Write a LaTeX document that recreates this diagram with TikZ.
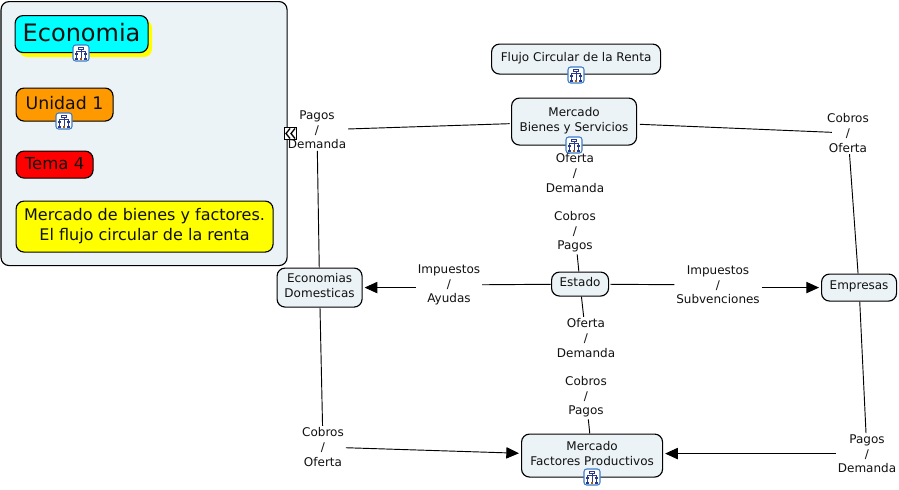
\documentclass[tikz,border=0pt]{standalone}
\usepackage{fontspec}
\setmainfont{DejaVu Sans}
\usetikzlibrary{arrows.meta,calc}
\definecolor{panel}{HTML}{EBF3F6}
\definecolor{txt}{HTML}{111111}
\definecolor{cmcyan}{HTML}{00FFFF}
\definecolor{cmyellow}{HTML}{FFFF00}
\definecolor{cmorange}{HTML}{FF9900}
\definecolor{cmred}{HTML}{FF0000}
\definecolor{iconblue}{HTML}{3C7CC8}
\definecolor{iconnavy}{HTML}{2A3A8C}
\tikzset{
  x=0.75pt,y=-0.75pt,
  concept/.style={draw=black,line width=0.85pt,rounded corners=6pt,fill=panel,align=center,font=\fontsize{9}{10.9}\selectfont,text=txt,inner sep=0pt,text depth=3pt},
  head/.style={draw=black,line width=0.85pt,rounded corners=6pt,align=center,text=txt,inner sep=0pt},
  lbl/.style={align=center,font=\fontsize{9}{10.9}\selectfont,text=txt,inner sep=1.5pt,outer sep=0pt},
  link/.style={draw=black,line width=0.7pt},
  arrowlink/.style={link,shorten >=1.5pt,-{Triangle[length=9.5pt,width=8.5pt]}},
  iconbox/.style={draw=iconblue,line width=0.8pt,fill=white,rounded corners=2pt,minimum size=12pt,inner sep=0pt},
}
\newcommand{\cmapicon}[2]{%
  \node[iconbox] (#1) at (#2) {};
  \begin{scope}[shift={(#2)}]
    \draw[iconnavy,line width=0.35pt] (0,-3.5) -- (0,4.5) (-4.5,-0.5) -- (-4.5,-1.8) -- (4.5,-1.8) -- (4.5,-0.5) (-4.5,2) -- (-4.5,4.5) (4.5,2) -- (4.5,4.5);
    \draw[iconnavy,line width=0.4pt,fill=white] (-2.5,-6) rectangle (2.5,-3.5);
    \fill[iconnavy] (-6,-0.5) rectangle (-3,2);
    \fill[iconnavy] (3,-0.5) rectangle (6,2);
    \fill[iconnavy] (-6,4.5) rectangle (-3,7);
    \fill[orange!70!black] (-1.3,4.5) rectangle (1.3,7);
    \fill[iconnavy] (3,4.5) rectangle (6,7);
  \end{scope}}
\begin{document}
\begin{tikzpicture}
\useasboundingbox (0,0) rectangle (899,489);
\fill[white] (0,0) rectangle (899,489);
% left panel
\node[concept,anchor=north west,minimum width=286pt*0.75,minimum height=264pt*0.75] (panel) at (0.5,1) {};
% yellow shadow
\fill[cmyellow,rounded corners=6pt] (19,20) rectangle (152,57);
\node[head,fill=cmcyan,anchor=north west,minimum width=133pt*0.75,minimum height=37pt*0.75,font=\fontsize{18}{20}\selectfont,text depth=3pt] (econ) at (14.5,15) {Economia};
\node[head,fill=cmorange,anchor=north west,minimum width=97pt*0.75,minimum height=33pt*0.75,font=\fontsize{13}{15}\selectfont,text depth=3pt] (unidad) at (15.5,87.5) {Unidad 1};
\node[head,fill=cmred,anchor=north west,minimum width=77pt*0.75,minimum height=27pt*0.75,font=\fontsize{12.4}{14}\selectfont,text depth=2pt] (tema) at (15.5,150.5) {Tema 4};
\node[head,fill=cmyellow,anchor=north west,minimum width=257pt*0.75,minimum height=51pt*0.75,font=\fontsize{12}{14.5}\selectfont,text depth=3pt] (titulo) at (15.5,200.5) {Mercado de bienes y factores.\\El flujo circular de la renta};
\cmapicon{i1}{81,53}
\cmapicon{i2}{64,121}
% collapse marker
\node[draw=black,fill=white,line width=0.8pt,minimum size=9pt,inner sep=0pt] (collapse) at (290.5,133.5) {};
\draw[black,line width=1pt] (290,128.5) -- (286,133.5) -- (290,138.5) (295,128.5) -- (291,133.5) -- (295,138.5);
% concepts
\node[concept,anchor=north west,minimum width=169pt*0.75,minimum height=30pt*0.75] (flujo) at (491,43.5) {Flujo Circular de la Renta};
\node[concept,anchor=north west,minimum width=125pt*0.75,minimum height=47pt*0.75] (mbs) at (511,97.5) {Mercado\\Bienes y Servicios};
\node[concept,anchor=north west,minimum width=85pt*0.75,minimum height=39pt*0.75] (eco) at (276.5,267.5) {Economias\\Domesticas};
\node[concept,anchor=north west,minimum width=57pt*0.75,minimum height=24pt*0.75] (estado) at (551,271.5) {Estado};
\node[concept,anchor=north west,minimum width=75pt*0.75,minimum height=27pt*0.75] (emp) at (821,273.5) {Empresas};
\node[concept,anchor=north west,minimum width=141pt*0.75,minimum height=43pt*0.75] (mfp) at (521,433.5) {Mercado\\Factores Productivos};
% labels
\node[lbl] (l1) at (317,130) {Pagos\\/\\Demanda};
\node[lbl] (l2) at (848,133) {Cobros\\/\\Oferta};
\node[lbl] (l3) at (575,173) {Oferta\\/\\Demanda};
\node[lbl] (l4) at (575,232) {Cobros\\/\\Pagos};
\node[lbl] (l5) at (449,285) {Impuestos\\/\\Ayudas};
\node[lbl] (l6) at (718,285) {Impuestos\\/\\Subvenciones};
\node[lbl] (l7) at (586,338) {Oferta\\/\\Demanda};
\node[lbl] (l8) at (586,397) {Cobros\\/\\Pagos};
\node[lbl] (l9) at (323,447) {Cobros\\/\\Oferta};
\node[lbl] (l10) at (867,454) {Pagos\\/\\Demanda};
\coordinate (mfpin) at ($(mfp.east)+(0,-2)$);
% connectors
\draw[link,shorten >=1pt] (l1) -- (mbs);
\draw[link,shorten <=2pt,shorten >=-5pt] (mbs) -- (l2);
\draw[link] (l2) -- (emp);
\draw[link] (l1) -- (eco);
\draw[link] (estado) -- (l4);
\draw[link] (l5) -- (estado);
\draw[link,shorten <=1pt] (estado) -- (l6);
\draw[link] (estado) -- (l7);
\draw[link] (l8) -- (mfp);
\draw[link] (eco) -- (l9);
\draw[link] (emp) -- (l10);
\draw[arrowlink] (l5.west |- eco) -- (eco);
\draw[arrowlink] (l6.east |- emp) -- (emp);
\draw[arrowlink] (l9) -- (mfp);
\draw[arrowlink] (l10.west |- mfpin) -- (mfpin);
\cmapicon{i3}{576,75}
\cmapicon{i4}{574,145}
\cmapicon{i5}{592,477}
\end{tikzpicture}
\end{document}
